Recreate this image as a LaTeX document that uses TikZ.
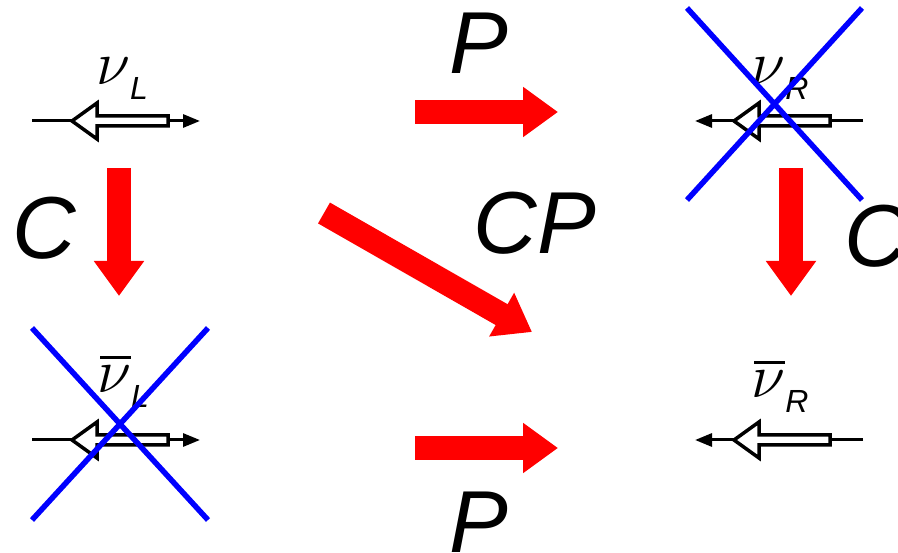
\RequirePackage{fix-cm}
\documentclass[tikz,border=0pt]{standalone}
\usepackage{fontspec}
\setmainfont{Liberation Serif}
\setsansfont{Liberation Sans}
\usetikzlibrary{arrows.meta}
\tikzset{
  momentum/.style={line width=3pt, draw=black},
  tip/.style={-{Triangle[length=17pt,width=13pt]}},
  spinarrow/.style={line width=3.5pt, draw=black, fill=white, line join=miter},
  flip/.style={draw=red, line width=24pt, -{Triangle[length=35pt,width=48pt]}},
  veto/.style={draw=blue, line width=5.5pt},
  opname/.style={font=\fontsize{88}{88}\selectfont\sffamily\itshape, inner sep=0pt, anchor=base},
  nulabel/.style={font=\fontsize{62}{62}\selectfont, inner sep=0pt, anchor=base},
  spin/.pic={\draw[spinarrow] (0,0) -- (25,-18) -- (25,-5) -- (96,-5)
    -- (96,5) -- (25,5) -- (25,18) -- cycle;}
}
\newcommand{\nusub}[1]{\raisebox{-15pt}{\fontsize{32}{32}\selectfont\sffamily\itshape #1}}
\newcommand{\antinu}{\makebox[0pt][l]{\hspace{3pt}\rule[34pt]{31pt}{3pt}}$\nu$}

\begin{document}
\begin{tikzpicture}[x=1pt, y=-1pt]
  \useasboundingbox (0,0) rectangle (898,553);
  % momentum lines and spins
  \draw[momentum, tip] (32,121) -- (200,121);
  \draw[momentum, tip] (863,121) -- (695,121);
  \draw[momentum, tip] (32,440) -- (200,440);
  \draw[momentum, tip] (863,440) -- (695,440);
  \foreach \x/\y in {72/121, 734/121, 72/440, 734/440}
    \pic at (\x,\y) {spin};
  % particle labels
  \node[nulabel] (nuL) at (122,85) {$\nu$\nusub{L}};
  \node[nulabel] (nuR) at (780,85) {$\nu$\nusub{R}};
  \node[nulabel] (nubarL) at (123,393) {\antinu\nusub{L}};
  \node[nulabel] (nubarR) at (780,398) {\antinu\nusub{R}};
  % transformations
  \coordinate (pTopA) at (415,112);
  \coordinate (pTopB) at (558,112);
  \coordinate (pBotA) at (415,448);
  \coordinate (pBotB) at (558,448);
  \coordinate (cLeftA) at (119,168);
  \coordinate (cLeftB) at (119,296);
  \coordinate (cRightA) at (791,168);
  \coordinate (cRightB) at (791,296);
  \coordinate (cpA) at (324,213);
  \coordinate (cpB) at (532,332);
  \draw[flip] (pTopA) -- (pTopB);
  \draw[flip] (pBotA) -- (pBotB);
  \draw[flip] (cLeftA) -- (cLeftB);
  \draw[flip] (cRightA) -- (cRightB);
  \draw[flip] (cpA) -- (cpB);
  \node[opname] (opPtop) at (479,74) {P};
  \node[opname] (opPbot) at (479,552) {P};
  \node[opname] (opCleft) at (44,259) {C};
  \node[opname] (opCright) at (876,267) {C};
  \node[opname] (opCP) at (535,254) {CP};
  % forbidden states
  \draw[veto] (687,8) -- (862,200) (862,8) -- (687,200);
  \draw[veto] (32,328) -- (208,520) (208,328) -- (32,520);
\end{tikzpicture}
\end{document}
